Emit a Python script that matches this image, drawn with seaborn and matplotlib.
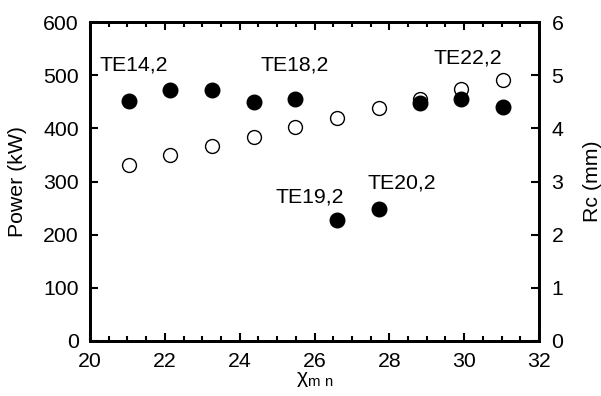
import seaborn as sb
import pandas as pd
import matplotlib.pyplot as plt
from matplotlib.ticker import MultipleLocator

# chi_mn for each mode
chi = [21.03, 22.14, 23.26, 24.38, 25.49, 26.61, 27.73, 28.82, 29.92, 31.03]
power = [452, 472, 472, 450, 456, 228, 248, 447, 456, 441]   # kW
rc = [3.31, 3.50, 3.67, 3.84, 4.03, 4.20, 4.39, 4.55, 4.74, 4.91]  # mm

mode_labels = ["TE14,2", "TE18,2", "TE19,2", "TE20,2", "TE22,2"]
label_x = [21.16, 25.48, 25.86, 28.34, 30.1]
label_y = [519, 519, 271, 297, 532]

sb.set_style("ticks")
plt.rcParams['font.family'] = ['Liberation Sans', 'DejaVu Sans']
plt.rcParams['font.size'] = 15.3
plt.rcParams['text.color'] = 'black'
plt.rcParams['axes.labelcolor'] = 'black'
plt.rcParams['xtick.color'] = 'black'
plt.rcParams['ytick.color'] = 'black'
plt.rcParams['axes.edgecolor'] = 'black'

df = pd.DataFrame({"chi": chi, "power": power, "rc": rc})

fig = plt.figure(figsize=(6.01, 3.96), dpi=100)
ax = fig.add_axes([0.1498, 0.1389, 0.747, 0.8055])
ax2 = ax.twinx()

sb.scatterplot(ax=ax, data=df, x="chi", y="power", color="black", s=110,
               edgecolor="black", linewidth=1, zorder=3)
sb.scatterplot(ax=ax2, data=df, x="chi", y="rc", facecolor="white", s=100,
               edgecolor="black", linewidth=1, zorder=2)

ax.set_zorder(ax2.get_zorder() + 1)
ax.patch.set_visible(False)

ax.set_xlim(20, 32)
ax.set_ylim(0, 600)
ax2.set_ylim(0, 6)
ax.xaxis.set_major_locator(MultipleLocator(2))
ax.xaxis.set_minor_locator(MultipleLocator(0.5))
ax.yaxis.set_major_locator(MultipleLocator(100))
ax2.yaxis.set_major_locator(MultipleLocator(1))

for a in (ax, ax2):
    for sp in a.spines.values():
        sp.set_linewidth(2)
        sp.set_visible(True)
ax.tick_params(which="major", direction="in", length=6, width=1.5, top=True, right=False, pad=8)
ax.tick_params(which="minor", direction="in", length=3.5, width=1.5, top=True)
ax2.tick_params(which="major", direction="in", length=6, width=1.5, pad=9)

ax.set_xlabel(r"$\mathregular{χ_{m\ n}}$")
ax.set_ylabel("Power (kW)")
ax2.set_ylabel("Rc (mm)")
ax.xaxis.set_label_coords(0.5, -0.09)
ax.yaxis.set_label_coords(-0.14, 0.5)
ax2.yaxis.set_label_coords(1.098, 0.5)

for t, x, y in zip(mode_labels, label_x, label_y):
    ax.text(x, y, t, ha="center", va="center")

plt.savefig("out.png", dpi=100)
